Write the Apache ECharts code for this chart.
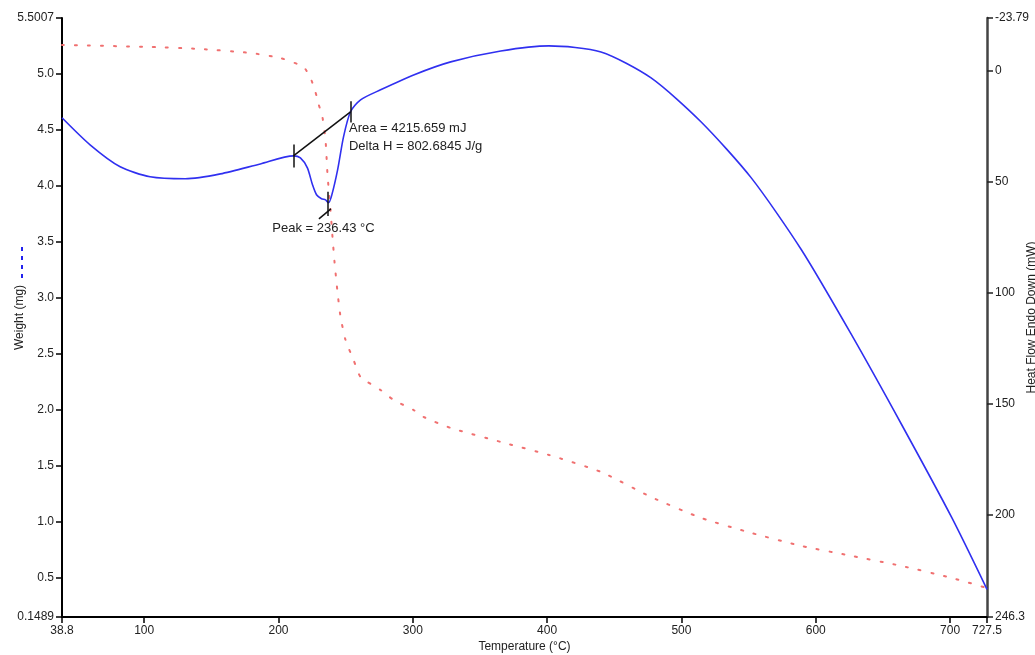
<!DOCTYPE html>
<html>
<head>
<meta charset="utf-8">
<script src="https://cdn.jsdelivr.net/npm/echarts@6/dist/echarts.min.js"></script>
<style>
html,body{margin:0;padding:0;background:#fff;}
#chart{width:1035px;height:655px;}
</style>
</head>
<body>
<div id="chart"></div>
<script>
// Temperature (°C) tick labels
const tempTicks = [38.8, 100, 200, 300, 400, 500, 600, 700, 727.5];
// Weight (mg) tick labels (left axis)
const weightTicks = [0.1489, 0.5, 1.0, 1.5, 2.0, 2.5, 3.0, 3.5, 4.0, 4.5, 5.0, 5.5007];
// Heat flow (mW) tick labels (right axis, endo down)
const heatTicks = [-23.79, 0, 50, 100, 150, 200, 246.3];

// Heat flow curve: temperature and value
const heatT = [38.8, 59.7, 82.1, 104.4, 130.5, 156.7, 186.5, 211.1, 216.3, 221.5, 225.3, 228.3, 232.0, 235.0, 237.2, 239.5, 244.0, 248.4, 253.6, 261.1, 276.0, 300.6, 328.2, 365.5, 401.3, 440.1, 477.4, 514.7, 552.0, 589.3, 626.6, 663.9, 701.2, 727.5];
const heatV = [21.2, 33.4, 43.3, 47.8, 48.7, 46.5, 42.0, 38.4, 39.3, 43.8, 51.4, 55.9, 57.7, 58.2, 59.5, 56.4, 44.7, 29.8, 18.5, 13.1, 8.6, 1.9, -4.0, -8.9, -11.2, -8.5, 3.2, 23.1, 48.3, 80.7, 119.0, 159.5, 201.4, 233.8];

// Weight curve: temperature and value
const weightT = [38.8, 104.4, 141.7, 179.0, 201.4, 218.6, 223.8, 227.5, 229.8, 232.7, 235.0, 236.5, 238.7, 240.2, 241.7, 244.0, 246.2, 249.9, 255.9, 261.1, 276.0, 285.7, 300.6, 308.1, 328.2, 365.5, 401.3, 440.1, 477.4, 514.7, 552.0, 589.3, 626.6, 663.9, 701.2, 727.5];
const weightV = [5.260, 5.242, 5.224, 5.188, 5.143, 5.063, 4.965, 4.840, 4.732, 4.616, 4.411, 4.098, 3.785, 3.544, 3.321, 3.044, 2.830, 2.624, 2.445, 2.294, 2.177, 2.088, 1.998, 1.936, 1.838, 1.713, 1.597, 1.445, 1.221, 1.034, 0.900, 0.784, 0.695, 0.605, 0.498, 0.408];

// Peak integration annotation (temperature, heat flow)
const onsetPt = [211.1, 38.4];
const endPt = [253.6, 18.5];
const peakPt = [236.43, 60.0];
const peakLeader = [[230.1, 66.8], [239.0, 62.3]];
const areaText = 'Area = 4215.659 mJ';
const deltaHText = 'Delta H = 802.6845 J/g';
const peakText = 'Peak = 236.43 °C';
const areaPos = [252.1, 26.2];
const deltaHPos = [252.1, 34.3];
const peakTextPos = [233.5, 71.0];

const FONT = 'Liberation Sans, Arial, sans-serif';
const TXT = '#222';

function zip(a, b) { return a.map((v, i) => [v, b[i]]); }
function vtick(p, d) { return [{coord: [p[0], p[1] - d]}, {coord: [p[0], p[1] + d]}]; }

const chart = echarts.init(document.getElementById('chart'), null, {renderer: 'canvas'});
chart.setOption({
  animation: false,
  backgroundColor: '#fff',
  grid: {left: 62, right: 48, top: 18, bottom: 38, containLabel: false, outerBoundsMode: 'none'},
  xAxis: {
    type: 'value', min: 38.8, max: 727.5,
    name: 'Temperature (°C)', nameLocation: 'middle', nameGap: 24, nameMoveOverlap: false,
    nameTextStyle: {fontFamily: FONT, fontSize: 12, color: TXT},
    axisLine: {show: true, onZero: false, lineStyle: {color: '#000', width: 2}},
    axisTick: {show: true, length: 6, lineStyle: {color: '#000', width: 1.5}, customValues: tempTicks},
    axisLabel: {fontFamily: FONT, fontSize: 12, color: TXT, margin: 8, customValues: tempTicks,
      formatter: v => String(v)},
    splitLine: {show: false}
  },
  yAxis: [{
    type: 'value', min: 0.1489, max: 5.5007, position: 'left',
    name: 'Weight (mg)', nameLocation: 'middle', nameGap: 36, nameRotate: 90, nameMoveOverlap: false,
    nameTextStyle: {fontFamily: FONT, fontSize: 12, color: TXT},
    axisLine: {show: true, onZero: false, lineStyle: {color: '#000', width: 2}},
    axisTick: {show: true, length: 6, lineStyle: {color: '#000', width: 1.5}, customValues: weightTicks},
    axisLabel: {fontFamily: FONT, fontSize: 12, color: TXT, margin: 8, customValues: weightTicks,
      formatter: v => (v === weightTicks[0] || v === weightTicks[weightTicks.length - 1]) ? String(v) : v.toFixed(1)},
    splitLine: {show: false}
  }, {
    type: 'value', min: -23.79, max: 246.3, inverse: true, position: 'right',
    name: 'Heat Flow Endo Down (mW)', nameLocation: 'middle', nameGap: 39, nameRotate: 90, nameMoveOverlap: false,
    nameTextStyle: {fontFamily: FONT, fontSize: 12, color: TXT},
    axisLine: {show: true, onZero: false, lineStyle: {color: '#444', width: 2.5}},
    axisTick: {show: true, length: 6, lineStyle: {color: '#222', width: 1.5}, customValues: heatTicks},
    axisLabel: {fontFamily: FONT, fontSize: 12, color: TXT, margin: 8, customValues: heatTicks,
      formatter: v => String(v)},
    splitLine: {show: false}
  }],
  graphic: [{
    type: 'line', shape: {x1: 22, y1: 247, x2: 22, y2: 281},
    style: {stroke: '#2222ee', lineWidth: 2, lineDash: [4, 5]}
  }],
  series: [{
    name: 'Weight', type: 'line', yAxisIndex: 0,
    data: zip(weightT, weightV), showSymbol: false, smooth: 0.2,
    lineStyle: {color: '#f07070', width: 2, type: [2, 11], cap: 'round'},
    z: 2
  }, {
    name: 'Heat Flow', type: 'line', yAxisIndex: 1,
    data: zip(heatT, heatV), showSymbol: false, smooth: 0.25,
    lineStyle: {color: '#3030f0', width: 1.6},
    z: 3,
    markLine: {
      silent: true, symbol: 'none', animation: false,
      label: {show: false},
      lineStyle: {color: '#111', width: 1.5, type: 'solid'},
      data: [
        [{coord: onsetPt}, {coord: endPt}],
        vtick(onsetPt, 5.2),
        vtick(endPt, 4.8),
        vtick(peakPt, 5.5),
        [{coord: peakLeader[0]}, {coord: peakLeader[1]}]
      ]
    },
    markPoint: {
      silent: true, symbol: 'circle', symbolSize: 1, animation: false,
      itemStyle: {color: 'rgba(0,0,0,0)'},
      label: {show: true, fontFamily: FONT, fontSize: 13, color: TXT},
      data: [
        {coord: areaPos, label: {position: 'right', distance: 0, formatter: areaText}},
        {coord: deltaHPos, label: {position: 'right', distance: 0, formatter: deltaHText}},
        {coord: peakTextPos, label: {position: 'inside', formatter: peakText}}
      ]
    }
  }]
});
</script>
</body>
</html>
